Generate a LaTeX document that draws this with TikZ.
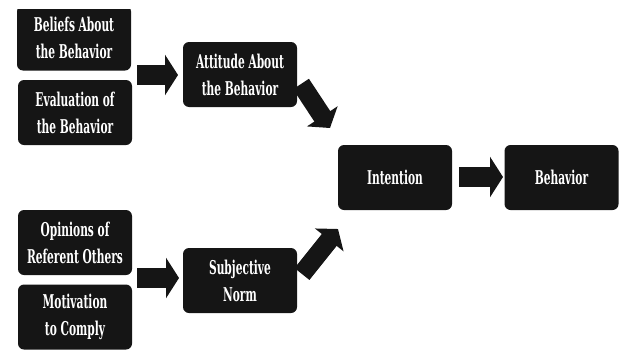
\documentclass[tikz,border=0pt]{standalone}
\usepackage{fontspec}
\setmainfont{DejaVu Serif}[FakeStretch=0.56]
\usetikzlibrary{arrows.meta}
\definecolor{boxc}{HTML}{151515}
\begin{document}
\begin{tikzpicture}[x=1pt,y=-1pt,
  box/.style={fill=boxc, rounded corners=6pt, minimum width=114pt, minimum height=65pt,
    text=white, font=\bfseries\fontsize{19}{27}\selectfont, align=center, inner sep=0pt},
  blockarrow/.style={draw=boxc, line width=20pt, -{Triangle[width=40pt,length=13pt]}},
  diagarrow/.style={draw=boxc, line width=19pt, -{Triangle[width=36pt,length=14pt]}}]
\useasboundingbox (0,0) rectangle (623,351);
\begin{scope}
  \clip (0,9) rectangle (623,351);
  \node[box] (b1) at (74,38) {Beliefs About\\the Behavior};
\end{scope}
\node[box] (b2) at (75,112.5) {Evaluation of\\the Behavior};
\node[box] (b3) at (240,74.5) {Attitude About\\the Behavior};
\node[box] (b4) at (75,242.5) {Opinions of\\Referent Others};
\node[box] (b5) at (75,317) {Motivation\\to Comply};
\node[box] (b6) at (240,280.5) {Subjective\\Norm};
\node[box] (b7) at (395,177.5) {Intention};
\node[box] (b8) at (561.5,177.5) {Behavior};
\coordinate (a1s) at (137,75);
\coordinate (a1e) at (178,75);
\coordinate (a2s) at (137,278);
\coordinate (a2e) at (179,278);
\coordinate (a3s) at (459,177);
\coordinate (a3e) at (503,177);
\coordinate (d1s) at (301,84);
\coordinate (d1e) at (330,128);
\coordinate (d2s) at (302,274);
\coordinate (d2e) at (338,229);
\draw[blockarrow] (a1s) -- (a1e);
\draw[blockarrow] (a2s) -- (a2e);
\draw[blockarrow] (a3s) -- (a3e);
\draw[diagarrow] (d1s) -- (d1e);
\draw[diagarrow] (d2s) -- (d2e);
\end{tikzpicture}
\end{document}
